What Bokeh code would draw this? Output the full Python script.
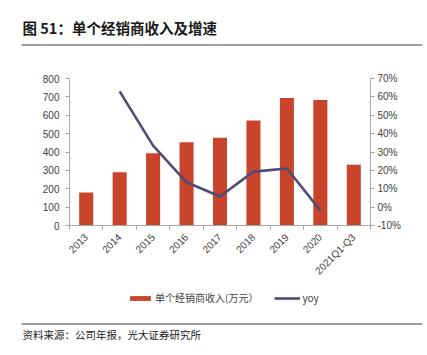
from bokeh.plotting import figure
from bokeh.models import (Range1d, LinearAxis, FixedTicker, NumeralTickFormatter,
                          Legend, LegendItem, ColumnDataSource)
from bokeh.core.properties import value
from bokeh.layouts import column
from bokeh.embed import file_html
from bokeh.resources import INLINE
import math

categories = ["2013", "2014", "2015", "2016", "2017", "2018", "2019", "2020", "2021Q1-Q3"]
revenue = [180, 290, 393, 453, 477, 571, 694, 683, 330]
yoy = [float("nan"), 0.63, 0.335, 0.135, 0.058, 0.193, 0.21, -0.018, float("nan")]
left_ticks = [0, 100, 200, 300, 400, 500, 600, 700, 800]
right_ticks = [-0.1, 0, 0.1, 0.2, 0.3, 0.4, 0.5, 0.6, 0.7]

title_text = "图 51：单个经销商收入及增速"
source_text = "资料来源：公司年报，光大证券研究所"
bar_name = "单个经销商收入(万元）"
line_name = "yoy"

BAR = "#C8442A"
LINE = "#4F4D78"
AXIS = "#A6A6A6"
TXT = "#404040"
TICK_FONT = "Liberation Sans"
CJK = "Noto Sans CJK SC"
BAR_W = 0.42
LINE_W = 2.6


def deco_fig(h):
    f = figure(width=427, height=h, output_backend="svg", toolbar_location=None,
               x_range=Range1d(0, 427), y_range=Range1d(h, 0),
               min_border=0, outline_line_color=None, frame_align=False)
    f.axis.visible = False
    f.grid.visible = False
    return f


# ---- title strip
t = deco_fig(52)
t.text(x=[22], y=[27], text=[title_text], text_font=value(CJK), text_font_size="14.5px",
       text_font_style="bold", text_color="#1a1a1a", text_baseline="middle")
t.segment(x0=[21], y0=[44.5], x1=[422], y1=[44.5], line_color="#404040", line_width=1.2)

# ---- main chart
x = list(range(len(categories)))
src = ColumnDataSource(dict(x=x, rev=revenue, yoy=yoy))

p = figure(width=427, height=232, output_backend="svg", toolbar_location=None,
           x_range=Range1d(-0.5, len(categories) - 0.5), y_range=Range1d(0, 800),
           min_border_left=69, min_border_right=57, min_border_top=26, min_border_bottom=59,
           outline_line_color=None, frame_align=False)
p.xgrid.visible = False
p.ygrid.visible = False
p.extra_y_ranges = {"pct": Range1d(-0.1, 0.7)}

p.vbar(x="x", top="rev", width=BAR_W, source=src, fill_color=BAR, line_color=None)
p.line(x="x", y="yoy", source=src, y_range_name="pct", line_color=LINE, line_width=LINE_W)

xa = p.xaxis[0]
xa.ticker = FixedTicker(ticks=x, minor_ticks=[i - 0.5 for i in range(len(categories) + 1)])
xa.major_label_overrides = {i: c for i, c in enumerate(categories)}
xa.major_label_orientation = math.pi / 4
xa.major_tick_line_color = None
xa.minor_tick_in = 0
xa.minor_tick_out = 4
xa.minor_tick_line_color = AXIS
xa.axis_line_color = AXIS
xa.major_label_text_font = TICK_FONT
xa.major_label_text_font_size = "10px"
xa.major_label_text_color = TXT
xa.major_label_standoff = 4

ya = p.yaxis[0]
ya.ticker = FixedTicker(ticks=left_ticks)
ya.major_tick_in = 0
ya.major_tick_out = 4
ya.minor_tick_line_color = None
ya.major_tick_line_color = AXIS
ya.axis_line_color = AXIS
ya.major_label_text_font = TICK_FONT
ya.major_label_text_font_size = "10px"
ya.major_label_text_color = TXT
ya.major_label_standoff = 6

ra = LinearAxis(y_range_name="pct", ticker=FixedTicker(ticks=right_ticks),
                formatter=NumeralTickFormatter(format="0%"))
ra.major_tick_in = 0
ra.major_tick_out = 4
ra.minor_tick_line_color = None
ra.major_tick_line_color = AXIS
ra.axis_line_color = AXIS
ra.major_label_text_font = TICK_FONT
ra.major_label_text_font_size = "10px"
ra.major_label_text_color = TXT
ra.major_label_standoff = 3
p.add_layout(ra, "right")

# ---- legend + source strip (legend proxies sit far outside the visible ranges)
s = deco_fig(71)
lb = s.vbar(x=[-1000], bottom=[-1000], top=[-999], width=BAR_W, fill_color=BAR, line_color=None)
ll = s.line(x=[-1010, -1000], y=[-1000, -1000], line_color=LINE, line_width=LINE_W)
legend = Legend(items=[LegendItem(label=bar_name, renderers=[lb]),
                       LegendItem(label=line_name, renderers=[ll])],
                orientation="horizontal", location=(127, 50),
                background_fill_alpha=0, border_line_color=None,
                label_text_font=CJK, label_text_font_size="10px", label_text_color=TXT,
                glyph_width=26, glyph_height=6, label_height=12, spacing=16,
                padding=2, margin=0, label_standoff=2)
s.add_layout(legend, "center")
s.segment(x0=[21], y0=[39.5], x1=[422], y1=[39.5], line_color="#404040", line_width=1.2)
s.text(x=[22], y=[50], text=[source_text], text_font=value(CJK), text_font_size="10.5px",
       text_color="#1a1a1a", text_baseline="middle")

layout = column(t, p, s, spacing=0)

open("out.html", "w").write(file_html(layout, INLINE))
